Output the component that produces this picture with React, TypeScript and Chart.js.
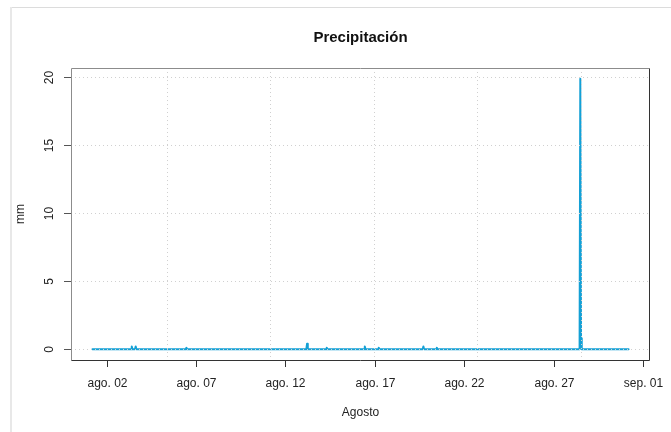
import React, { useEffect, useRef } from "react";
import { Chart, registerables } from "chart.js";

Chart.register(...registerables);

const TITLE = "Precipitación";
const X_TITLE = "Agosto";
const Y_TITLE = "mm";

// Time of each reading, in days after 1 August 00:00
const readingDays = [
  0.2, 2.36, 2.4, 2.44, 2.58, 2.62, 2.66, 5.42, 5.46, 5.5, 12.17, 12.21, 12.25,
  13.27, 13.31, 13.35, 15.4, 15.44, 15.48, 16.18, 16.22, 16.26, 18.68, 18.72,
  18.76, 19.43, 19.47, 19.51, 27.46, 27.5, 27.54, 27.58, 30.2,
];
// Precipitation at each reading (mm)
const rainMm = [
  0, 0, 0.2, 0, 0, 0.2, 0, 0, 0.1, 0, 0, 0.4, 0, 0, 0.1, 0, 0, 0.2, 0, 0, 0.1,
  0, 0, 0.2, 0, 0, 0.1, 0, 0, 19.9, 0.8, 0, 0,
];

const xTickDays = [1, 6, 11, 16, 21, 26, 31];
const xTickLabels = ["ago. 02", "ago. 07", "ago. 12", "ago. 17", "ago. 22", "ago. 27", "sep. 01"];
const xGridDays = [4.39, 10.18, 15.97, 21.76, 27.55];
const yTicks = [0, 5, 10, 15, 20];

const FONT = "'Liberation Sans', Arial, sans-serif";
const LINE_COLOR = "#14a0d5";
const GRID_COLOR = "#d0d0d0";

export default function App() {
  const ref = useRef<HTMLCanvasElement | null>(null);

  useEffect(() => {
    const canvas = ref.current;
    if (!canvas) return;

    const xMinD = Math.min(...readingDays);
    const xMaxD = Math.max(...readingDays);
    const xPad = (xMaxD - xMinD) * 0.04;
    const yMinD = Math.min(...rainMm);
    const yMaxD = Math.max(...rainMm);
    const yPad = (yMaxD - yMinD) * 0.04;

    const points = readingDays.map((d, i) => ({ x: d, y: rainMm[i] }));

    const decor = {
      id: "decor",
      afterDraw(chart: any) {
        const { ctx, chartArea: a, scales } = chart;
        const xs = scales.x;
        const ys = scales.y;
        ctx.save();
        // outer frame
        ctx.fillStyle = "#dcdcdc";
        ctx.fillRect(10, 7, 700, 1);
        ctx.fillStyle = "#e8e8e8";
        ctx.fillRect(10, 7, 2, 440);

        // plot box
        ctx.lineWidth = 1;
        ctx.strokeStyle = "#8c8c8c";
        ctx.beginPath();
        ctx.moveTo(a.left + 0.5, a.bottom + 0.5);
        ctx.lineTo(a.left + 0.5, a.top + 0.5);
        ctx.lineTo(a.right - 0.5, a.top + 0.5);
        ctx.stroke();
        ctx.strokeStyle = "#333333";
        ctx.beginPath();
        ctx.moveTo(a.right - 0.5, a.top + 0.5);
        ctx.lineTo(a.right - 0.5, a.bottom + 0.5);
        ctx.lineTo(a.left + 0.5, a.bottom + 0.5);
        ctx.stroke();

        // y ticks and labels
        ctx.fillStyle = "#222";
        ctx.font = `12px ${FONT}`;
        yTicks.forEach((v) => {
          const py = Math.round(ys.getPixelForValue(v)) + 0.5;
          ctx.strokeStyle = "#555";
          ctx.beginPath();
          ctx.moveTo(a.left - 7, py);
          ctx.lineTo(a.left, py);
          ctx.stroke();
          ctx.save();
          ctx.translate(53, py);
          ctx.rotate(-Math.PI / 2);
          ctx.textAlign = "center";
          ctx.textBaseline = "alphabetic";
          ctx.fillText(String(v), 0, 0);
          ctx.restore();
        });

        // x ticks and labels
        xTickDays.forEach((d, i) => {
          const px = Math.round(xs.getPixelForValue(d)) + 0.5;
          ctx.strokeStyle = "#333";
          ctx.beginPath();
          ctx.moveTo(px, a.bottom);
          ctx.lineTo(px, a.bottom + 7);
          ctx.stroke();
          ctx.textAlign = "center";
          ctx.textBaseline = "alphabetic";
          ctx.fillText(xTickLabels[i], px, 387);
        });

        // axis titles
        ctx.fillText(X_TITLE, (a.left + a.right) / 2, 416);
        ctx.save();
        ctx.translate(24, (a.top + a.bottom) / 2);
        ctx.rotate(-Math.PI / 2);
        ctx.textAlign = "center";
        ctx.fillText(Y_TITLE, 0, 0);
        ctx.restore();

        // main title
        ctx.fillStyle = "#111";
        ctx.font = `bold 15px ${FONT}`;
        ctx.textAlign = "center";
        ctx.fillText(TITLE, (a.left + a.right) / 2, 42);
        ctx.restore();
      },
    };

    const chart = new Chart(canvas, {
      type: "line",
      data: {
        datasets: [
          {
            data: points,
            borderColor: LINE_COLOR,
            backgroundColor: LINE_COLOR,
            borderWidth: 2,
            pointRadius: 0,
            tension: 0,
            borderCapStyle: "round",
            borderJoinStyle: "round",
            fill: false,
          },
        ],
      },
      options: {
        animation: false,
        responsive: false,
        devicePixelRatio: 1,
        events: [],
        layout: { padding: { left: 0, top: 68, right: 21, bottom: 0 } },
        plugins: {
          legend: { display: false },
          title: { display: false },
          tooltip: { enabled: false },
        },
        scales: {
          x: {
            type: "linear",
            min: xMinD - xPad,
            max: xMaxD + xPad,
            afterBuildTicks: (s: any) => {
              s.ticks = xGridDays.map((v) => ({ value: v }));
            },
            afterFit: (s: any) => {
              s.height = 72;
            },
            ticks: { display: false },
            grid: {
              color: GRID_COLOR,
              lineWidth: 1,
              drawTicks: false,
              z: 1,
            },
            border: { display: false, dash: [1, 3] },
          },
          y: {
            type: "linear",
            min: yMinD - yPad,
            max: yMaxD + yPad,
            afterBuildTicks: (s: any) => {
              s.ticks = yTicks.map((v) => ({ value: v }));
            },
            afterFit: (s: any) => {
              s.width = 71;
            },
            ticks: { display: false },
            grid: {
              color: GRID_COLOR,
              lineWidth: 1,
              drawTicks: false,
              z: 1,
            },
            border: { display: false, dash: [1, 3] },
          },
        },
      },
      plugins: [decor],
    } as any);

    return () => chart.destroy();
  }, []);

  return (
    <div
      style={{
        position: "fixed",
        left: 0,
        top: 0,
        width: 671,
        height: 432,
        background: "#fff",
      }}
    >
      <canvas ref={ref} width={671} height={432} style={{ width: 671, height: 432, display: "block" }} />
    </div>
  );
}
